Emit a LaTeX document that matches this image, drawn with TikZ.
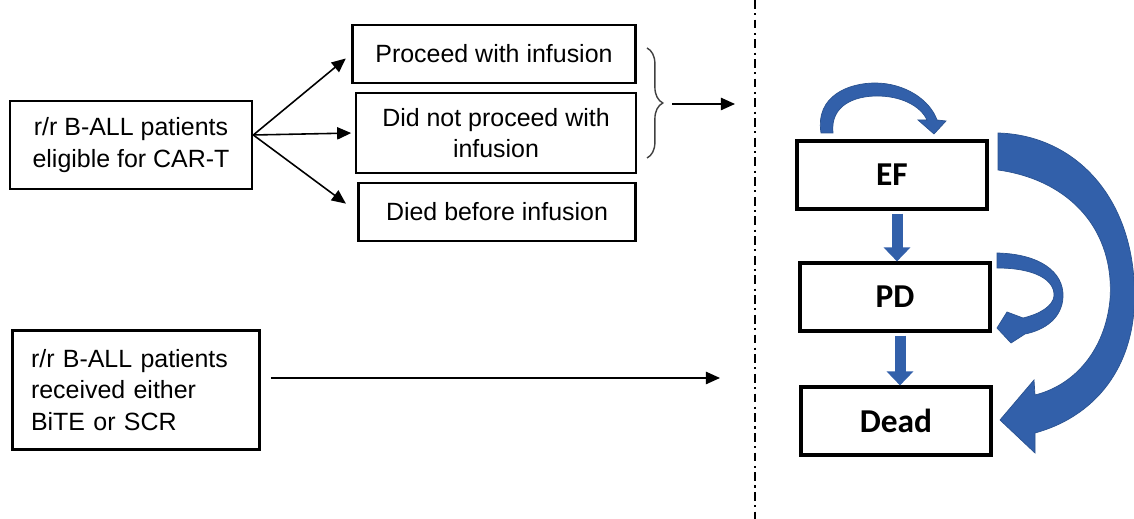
\documentclass[tikz,border=0pt]{standalone}
\usepackage{fontspec}
\setmainfont{Liberation Sans}
\newfontfamily\calibri{Carlito}
\usetikzlibrary{arrows.meta,calc,decorations.pathreplacing}
\definecolor{arrowblue}{RGB}{50,96,170}

\begin{document}
\begin{tikzpicture}[x=0.02cm, y=-0.02cm, >={Triangle[length=8pt,width=7pt]},
  font=\fontsize{14.2}{18}\selectfont,
  box/.style={draw, line width=1.5pt, align=center, inner sep=0pt},
  statebox/.style={draw, line width=1.8pt, minimum width=3.8cm, minimum height=1.36cm,
    font=\calibri\bfseries\fontsize{19}{22}\selectfont},
  flow/.style={->, line width=0.9pt},
  blockarrow/.style={-{Triangle[width=0.52cm,length=0.28cm]}, line width=0.22cm, arrowblue},
  bandarrow/.style={fill=arrowblue, draw=arrowblue!85!black, line width=0.4pt}]
  % canvas: one unit = one pixel of the 1134 x 519 layout, y pointing down
  \useasboundingbox (0,0) rectangle (1134,519);

  % --- cohorts (left) ---
  \node[box, minimum width=4.84cm, minimum height=1.76cm] (cart) at (131,145)
    {r/r B-ALL patients\\eligible for CAR-T};
  \node[box, minimum width=5.66cm, minimum height=1.16cm] (proc) at (494,54)
    {Proceed with infusion};
  \node[box, minimum width=5.6cm, minimum height=1.6cm] (noproc) at (496,133)
    {Did not proceed with\\infusion};
  \node[box, minimum width=5.54cm, minimum height=1.16cm] (died) at (497,212)
    {Died before infusion};
  \node[box, minimum width=4.94cm, minimum height=2.38cm, text width=4.2cm, align=left]
    (bite) at (136,390) {r/r B-ALL patients\\received either\\BiTE or SCR};

  % --- branching of the CAR-T cohort ---
  \coordinate (fork) at ($(cart.east)+(0,-10)$);
  \draw[flow, shorten >=4pt] (fork) -- (proc.west);
  \draw[flow, shorten >=2pt] (fork) -- (noproc.west);
  \draw[flow, shorten >=8pt] (fork) -- (died.west);

  % --- brace and entry arrows into the model ---
  \draw[decorate, decoration={brace, amplitude=9pt}, line width=0.8pt, black!75]
    (647,48) -- (647,158);
  \coordinate (bracetip) at (672,104);
  \coordinate (modelin) at (735,104);
  \draw[flow] (bracetip) -- (modelin);
  \coordinate (bitestart) at ($(bite.east)+(10,-12)$);
  \coordinate (biteend) at (720,378);
  \draw[flow] (bitestart) -- (biteend);

  % --- divider ---
  \draw[line width=1.3pt, dash pattern=on 5pt off 2.5pt on 1.2pt off 2.5pt]
    (755,0) -- (755,519);

  % --- health states ---
  \node[statebox] (ef) at (892,175) {EF};
  \node[statebox] (pd) at (895,297) {PD};
  \node[statebox] (dead) at (896,421) {Dead};

  % --- transitions ---
  \coordinate (efout) at ($(ef.south)+(5,3)$);
  \coordinate (pdout) at ($(pd.south)+(5,3)$);
  \draw[blockarrow] (efout) -- (efout |- pd.north);
  \draw[blockarrow] (pdout) -- (pdout |- dead.north);
  % stay in EF
  \path[bandarrow] (821,133) .. controls (815,95) and (850,83) .. (875,83)
    .. controls (905,83) and (930,100) .. (937,120) -- (946,121) -- (934,134)
    -- (918,120) -- (927,120) .. controls (920,105) and (900,96) .. (877,96)
    .. controls (855,96) and (830,105) .. (833,133) -- cycle;
  % stay in PD
  \path[bandarrow] (997,253) .. controls (1040,254) and (1064,272) .. (1063,297)
    .. controls (1062,318) and (1045,330) .. (1025,334) -- (1011,343) -- (997,328)
    -- (1007,312) -- (1023,318) .. controls (1040,314) and (1053,306) .. (1054,296)
    .. controls (1055,280) and (1035,268) .. (997,268) -- cycle;
  % EF straight to dead
  \path[bandarrow] (998,133) .. controls (1070,135) and (1128,190) .. (1134,280)
    .. controls (1140,360) and (1100,415) .. (1035,433) -- (1035,453) -- (1000,420)
    -- (1034,380) -- (1035,395) .. controls (1075,385) and (1105,350) .. (1110,300)
    .. controls (1115,230) and (1070,180) .. (998,170) -- cycle;

\end{tikzpicture}
\end{document}
